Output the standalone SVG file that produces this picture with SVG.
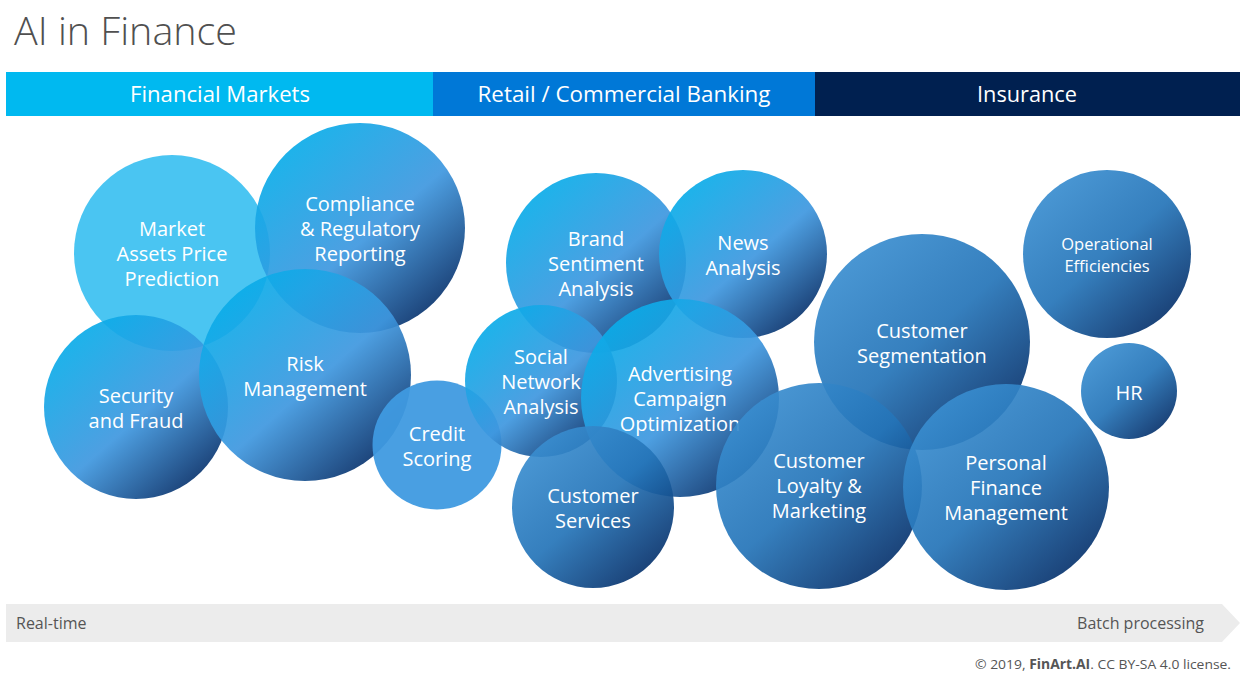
<svg xmlns="http://www.w3.org/2000/svg" width="1250" height="679" viewBox="0 0 1250 679">
<defs>
<linearGradient id="gA" x1="0.15" y1="0.1" x2="0.85" y2="0.9">
<stop offset="0" stop-color="#08ade9"/>
<stop offset="0.55" stop-color="#3e97df"/>
<stop offset="1" stop-color="#07306a"/>
</linearGradient>
<linearGradient id="gB" x1="0.15" y1="0.1" x2="0.85" y2="0.9">
<stop offset="0" stop-color="#3a8ed0"/>
<stop offset="0.5" stop-color="#2474b8"/>
<stop offset="1" stop-color="#06306a"/>
</linearGradient>
<style>
.t{font-family:"Open Sans","Noto Sans","Liberation Sans",sans-serif;}
.b{fill:#fff;font-size:20px;text-anchor:middle;dominant-baseline:central;}
.ga{fill:url(#gA);opacity:0.92;}
.gb{fill:url(#gB);opacity:0.92;}
.hd{fill:#fff;font-size:21px;text-anchor:middle;}
.ax{fill:#555;font-size:16px;}
</style>
</defs>
<rect width="1250" height="679" fill="#fff"/>
<text class="t" x="14" y="45" font-size="39" font-weight="300" fill="#505050" textLength="223" lengthAdjust="spacingAndGlyphs">AI in Finance</text>

<g id="header">
<rect x="6" y="72" width="427" height="44" fill="#00b9f0"/>
<rect x="433" y="72" width="382" height="44" fill="#0078d7"/>
<rect x="815" y="72" width="425" height="44" fill="#002050"/>
<text class="t hd" x="220" y="102" textLength="180" lengthAdjust="spacingAndGlyphs">Financial Markets</text>
<text class="t hd" x="624" y="102" textLength="293" lengthAdjust="spacingAndGlyphs">Retail / Commercial Banking</text>
<text class="t hd" x="1027" y="102" textLength="100" lengthAdjust="spacingAndGlyphs">Insurance</text>
</g>

<g id="market"><circle cx="172" cy="253" r="98" fill="#40c2f1" opacity="0.95"/>
<text class="t b"><tspan x="172" y="228">Market</tspan><tspan x="172" y="253">Assets Price</tspan><tspan x="172" y="278">Prediction</tspan></text></g>
<g id="compliance"><circle class="ga" cx="360" cy="228" r="105"/>
<text class="t b"><tspan x="360" y="203">Compliance</tspan><tspan x="360" y="228">&amp; Regulatory</tspan><tspan x="360" y="253">Reporting</tspan></text></g>
<g id="security"><circle class="ga" cx="136" cy="407" r="92"/>
<text class="t b"><tspan x="136" y="395">Security</tspan><tspan x="136" y="420">and Fraud</tspan></text></g>
<g id="risk"><circle class="ga" cx="305" cy="375" r="106"/>
<text class="t b"><tspan x="305" y="363">Risk</tspan><tspan x="305" y="388">Management</tspan></text></g>
<g id="credit"><circle cx="437" cy="445" r="64.5" fill="#3f9ae0" opacity="0.95"/>
<text class="t b"><tspan x="437" y="433">Credit</tspan><tspan x="437" y="458">Scoring</tspan></text></g>
<g id="brand"><circle class="ga" cx="596" cy="263" r="90"/>
<text class="t b"><tspan x="596" y="238">Brand</tspan><tspan x="596" y="263">Sentiment</tspan><tspan x="596" y="288">Analysis</tspan></text></g>
<g id="news"><circle class="ga" cx="743" cy="254" r="84"/>
<text class="t b"><tspan x="743" y="242">News</tspan><tspan x="743" y="267">Analysis</tspan></text></g>
<g id="social"><circle class="ga" cx="541" cy="381" r="76"/>
<text class="t b"><tspan x="541" y="356">Social</tspan><tspan x="541" y="381">Network</tspan><tspan x="541" y="406">Analysis</tspan></text></g>
<g id="advertising"><circle class="ga" cx="680" cy="398" r="99"/>
<text class="t b"><tspan x="680" y="373">Advertising</tspan><tspan x="680" y="398">Campaign</tspan><tspan x="680" y="423">Optimization</tspan></text></g>
<g id="services"><circle class="gb" cx="593" cy="507" r="81"/>
<text class="t b"><tspan x="593" y="495">Customer</tspan><tspan x="593" y="520">Services</tspan></text></g>
<g id="segmentation"><circle class="gb" cx="922" cy="342" r="108"/>
<text class="t b"><tspan x="922" y="330">Customer</tspan><tspan x="922" y="355">Segmentation</tspan></text></g>
<g id="loyalty"><circle class="gb" cx="819" cy="486" r="103"/>
<text class="t b"><tspan x="819" y="460">Customer</tspan><tspan x="819" y="485">Loyalty &amp;</tspan><tspan x="819" y="510">Marketing</tspan></text></g>
<g id="pfm"><circle class="gb" cx="1006" cy="487" r="103"/>
<text class="t b"><tspan x="1006" y="462">Personal</tspan><tspan x="1006" y="487">Finance</tspan><tspan x="1006" y="512">Management</tspan></text></g>
<g id="operational"><circle class="gb" cx="1107" cy="254" r="84"/>
<text class="t b" style="font-size:16.5px"><tspan x="1107" y="243">Operational</tspan><tspan x="1107" y="265">Efficiencies</tspan></text></g>
<g id="hr"><circle class="gb" cx="1129" cy="391" r="48"/>
<text class="t b"><tspan x="1129" y="392">HR</tspan></text></g>

<g id="axis">
<polygon points="6,604 1222,604 1240,623 1222,642 6,642" fill="#ececec"/>
<text class="t ax" x="16" y="629">Real-time</text>
<text class="t ax" x="1204" y="629" text-anchor="end">Batch processing</text>
</g>
<text class="t" x="1231" y="669" font-size="13.5" fill="#555" text-anchor="end" textLength="256" lengthAdjust="spacingAndGlyphs">© 2019, <tspan font-weight="bold">FinArt.AI</tspan>. CC BY-SA 4.0 license.</text>
</svg>
